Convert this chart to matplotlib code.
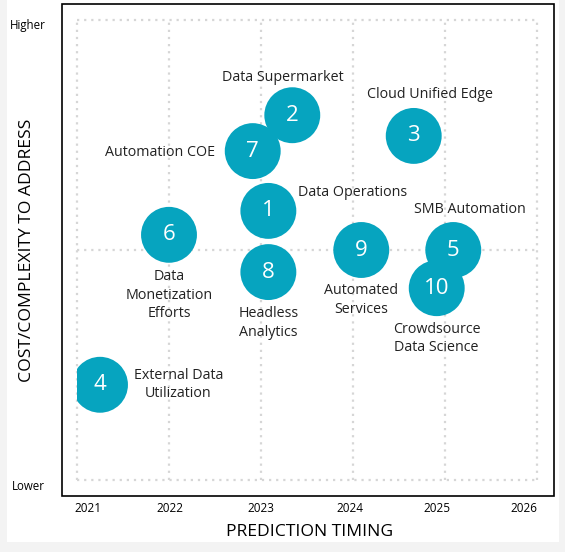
import matplotlib.pyplot as plt
from matplotlib.patches import Rectangle

plt.rcParams['font.family'] = ['Open Sans', 'DejaVu Sans']

# bubbles: number, x position (year), y position (cost/complexity, 0=lower, 10=higher)
numeros = ['1', '2', '3', '4', '5', '6', '7', '8', '9', '10']
x_annee = [2023.08, 2023.34, 2024.66, 2021.25, 2025.09, 2022.0, 2022.91, 2023.08, 2024.09, 2024.91]
y_cout = [5.85, 7.93, 7.48, 2.07, 5.0, 5.33, 7.15, 4.52, 5.0, 4.17]

libelles = ['Data Operations', 'Data Supermarket', 'Cloud Unified Edge', 'External Data\nUtilization',
            'SMB Automation', 'Data\nMonetization\nEfforts', 'Automation COE', 'Headless\nAnalytics',
            'Automated\nServices', 'Crowdsource\nData Science']
x_libelle = [2023.99, 2023.24, 2024.84, 2022.10, 2025.27, 2022.0, 2021.90, 2023.08, 2024.09, 2024.91]
y_libelle = [6.26, 8.76, 8.37, 2.07, 5.87, 4.02, 7.13, 3.41, 3.91, 3.07]

annees = ['2021', '2022', '2023', '2024', '2025', '2026']
pos_annees = [2021.12, 2022.01, 2023.0, 2023.97, 2024.91, 2025.86]

couleur = '#06a4bf'

fig = plt.figure(figsize=(5.65, 5.52), dpi=100)
fig.patch.set_facecolor('#f3f3f3')
# white card
fig.add_artist(Rectangle((7/565, 10/552), 552/565, 542/552, transform=fig.transFigure,
                         facecolor='white', edgecolor='none', zorder=-10))
# outer black frame
fig.add_artist(Rectangle((62/565, 1 - 496/552), 492/565, 492/552, transform=fig.transFigure,
                         facecolor='none', edgecolor='black', lw=1.2, zorder=5))

ax = fig.add_axes([77/565, 1 - 480/552, 460/565, 460/552])
ax.set_xlim(2021, 2026)
ax.set_ylim(0, 10)
ax.set_facecolor('none')
for s in ax.spines.values():
    s.set_visible(False)

# dotted grid
for xv in [2021, 2022, 2023, 2024, 2025, 2026]:
    ax.axvline(xv, color='#d6d6d6', lw=1.6, ls=(0, (1, 2.2)), zorder=0, clip_on=False)
for yv in [0, 5, 10]:
    ax.axhline(yv, color='#d6d6d6', lw=1.6, ls=(0, (1, 2.2)), zorder=0, clip_on=False)

ax.scatter(x_annee, y_cout, s=1620, color=couleur, edgecolors='none', zorder=3)
for n, xx, yy in zip(numeros, x_annee, y_cout):
    ax.text(xx, yy, n, color='white', fontsize=16, ha='center', va='center', zorder=4)

for lab, xx, yy in zip(libelles, x_libelle, y_libelle):
    ax.text(xx, yy, lab, fontsize=10.3, ha='center', va='center', color='#222222',
            linespacing=1.3, zorder=4)

ax.set_xticks([])
ax.set_yticks([])
for lab, p in zip(annees, pos_annees):
    ax.text(p, -0.63, lab, fontsize=8.5, ha='center', va='center', clip_on=False)

fig.text(28/565, 1 - 26/552, 'Higher', fontsize=8.3, ha='center', va='center')
fig.text(28/565, 1 - 486/552, 'Lower', fontsize=8.3, ha='center', va='center')
fig.text(310/565, 1 - 532/552, 'PREDICTION TIMING', fontsize=12.6, ha='center', va='center')
fig.text(27/565, 1 - 250/552, 'COST/COMPLEXITY TO ADDRESS', fontsize=12.6, ha='center', va='center',
         rotation=90)

fig.savefig('out.png', dpi=100, facecolor=fig.get_facecolor())
